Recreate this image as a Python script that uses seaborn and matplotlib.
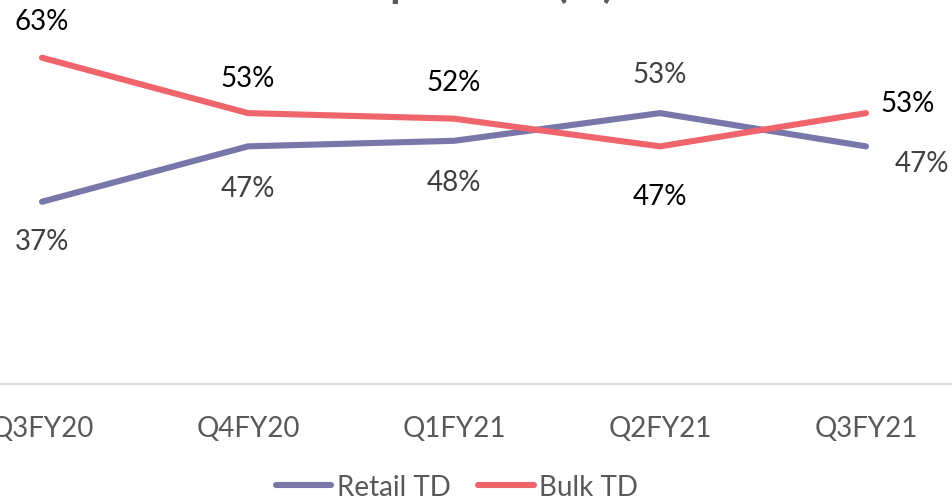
import matplotlib
matplotlib.use('Agg')
import matplotlib.pyplot as plt
import pandas as pd
import seaborn as sns

# Daten
quarters = ['Q3FY20', 'Q4FY20', 'Q1FY21', 'Q2FY21', 'Q3FY21']
retail_td = [37, 47, 48, 53, 47]
bulk_td = [63, 53, 52, 47, 53]
series_names = ['Retail TD', 'Bulk TD']

sns.set_style('white')
plt.rcParams['font.family'] = ['Lato', 'DejaVu Sans']

df = pd.DataFrame({
    'pos': list(range(len(quarters))) * 2,
    'value': retail_td + bulk_td,
    'series': [series_names[0]] * len(quarters) + [series_names[1]] * len(quarters),
})

colors = {'Retail TD': '#7977AA', 'Bulk TD': '#F0646C'}
label_colors = {'Retail TD': '#404040', 'Bulk TD': '#000000'}

fig = plt.figure(figsize=(9.52, 5.02), dpi=100)
# Plotbereich ist links und rechts abgeschnitten wie im Original
ax = fig.add_axes([-61 / 952, 117 / 502, 1030 / 952, 385 / 502])

sns.lineplot(data=df, x='pos', y='value', hue='series', palette=colors,
             linewidth=4.4, solid_capstyle='round', ax=ax, legend=False)

ax.set_xlim(-0.5, len(quarters) - 0.5)
ax.set_ylim(4.1, 73.6)
ax.set_xticks(range(len(quarters)))
ax.set_xticklabels(quarters, fontsize=20, color='#595959')
ax.tick_params(axis='x', length=0, pad=22)
ax.set_yticks([])
ax.set_xlabel('')
ax.set_ylabel('')
for s in ['top', 'left', 'right']:
    ax.spines[s].set_visible(False)
ax.spines['bottom'].set_color('#D9D9D9')
ax.spines['bottom'].set_linewidth(1.6)

# Beschriftungen (Offsets in Pixel)
offsets = {
    'Retail TD': [(0, -39, 'center'), (0, -42, 'center'), (0, -41, 'center'),
                  (0, 39, 'center'), (29, -17, 'left')],
    'Bulk TD': [(0, 37, 'center'), (0, 35, 'center'), (0, 37, 'center'),
                (0, -50, 'center'), (14, 10, 'left')],
}
for name, vals in zip(series_names, [retail_td, bulk_td]):
    for i, v in enumerate(vals):
        dx, dy, ha = offsets[name][i]
        ax.annotate(f'{v}%', (i, v), xytext=(dx, dy), textcoords='offset pixels',
                    ha=ha, va='center', fontsize=20, color=label_colors[name])

handles = [plt.Line2D([], [], color=colors[n], linewidth=4.4, solid_capstyle='round')
           for n in series_names]
fig.legend(handles, series_names, loc='center', bbox_to_anchor=(457 / 952, 1 - 488 / 502),
           ncol=2, frameon=False, fontsize=20, handlelength=2.0, handletextpad=0.2,
           columnspacing=1.0, labelcolor='#595959')

# Titel ist oben abgeschnitten
fig.text(615 / 952, 1 + 3 / 502, 'TD Composition (%)', ha='right', va='baseline',
         fontsize=31, fontweight='bold', color='#595959')

fig.savefig('out.png', dpi=100)
